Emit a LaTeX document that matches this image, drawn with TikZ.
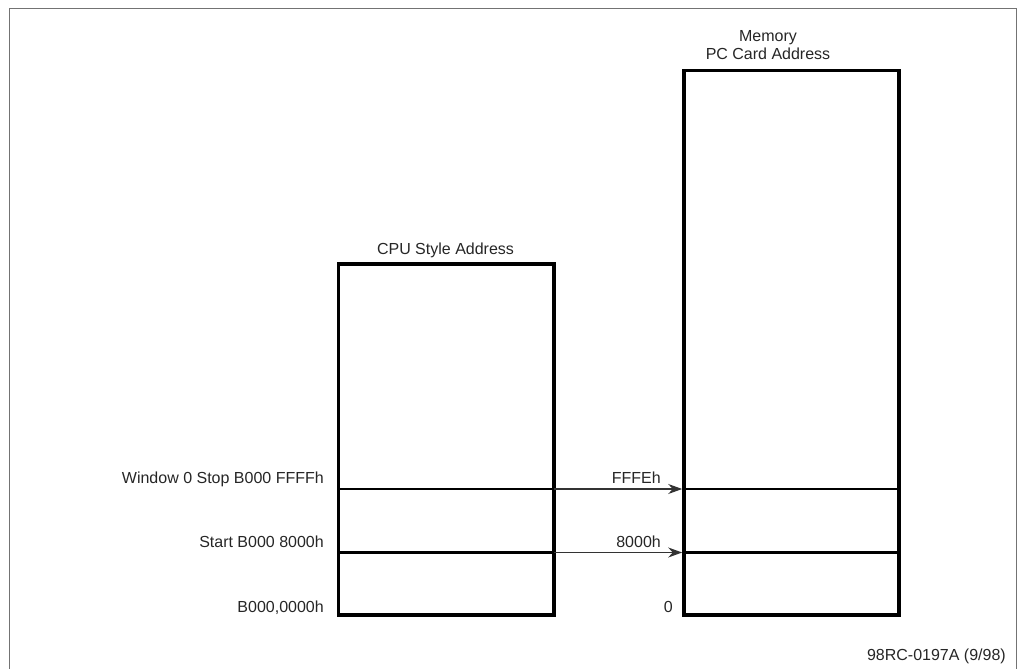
\documentclass[tikz,border=0pt]{standalone}
\usepackage{fontspec}
\setmainfont{Liberation Sans}
\usetikzlibrary{arrows.meta}
\begin{document}
\begin{tikzpicture}[x=1pt,y=-1pt,
  frame/.style={draw=black!55,line width=1.3pt},
  membox/.style={draw=black,line width=3.2pt},
  divider/.style={draw=black,line width=2.8pt},
  maparrow/.style={draw=black!80,line width=1.4pt,-{Stealth[length=14pt,width=10pt]},shorten >=1.8pt},
  lbl/.style={font=\fontsize{16}{19}\selectfont,text=black!85,inner sep=0pt}]
\useasboundingbox (0,0) rectangle (1021,669);
\draw[frame] (9.7,675) -- (9.7,8.7) -- (1016.3,8.7) -- (1016.3,675);
% boxes
\coordinate (cpuTL) at (338.5,264);
\coordinate (cpuBR) at (554,615);
\coordinate (memTL) at (684,70.7);
\coordinate (memBR) at (899,615);
\draw[membox] (cpuTL) rectangle (cpuBR);
\draw[membox] (memTL) rectangle (memBR);
% divider lines
\coordinate (cs1) at (338.5,489);
\coordinate (ce1) at (554,489);
\coordinate (cs2) at (338.5,552.5);
\coordinate (ce2) at (554,552.5);
\coordinate (ms1) at (684,489);
\coordinate (me1) at (899,489);
\coordinate (ms2) at (684,552.5);
\coordinate (me2) at (899,552.5);
\draw[divider] (cs1) -- (ce1);
\draw[divider] (cs2) -- (ce2);
\draw[divider] (ms1) -- (me1);
\draw[divider] (ms2) -- (me2);
% arrows
\draw[maparrow] (ce1) -- (ms1);
\draw[maparrow] (ce2) -- (ms2);
% labels
\node[lbl,anchor=base] (cpuTitle) at (445.5,254) {CPU Style Address};
\node[lbl,anchor=base,align=center] (memTitle1) at (768,42) {Memory};
\node[lbl,anchor=base,align=center] (memTitle2) at (768,60) {PC Card Address};
\node[lbl,anchor=base east] (stop) at (324,483) {Window 0 Stop B000 FFFFh};
\node[lbl,anchor=base east] (start) at (324,547) {Start B000 8000h};
\node[lbl,anchor=base east] (base) at (324,612.5) {B000,0000h};
\node[lbl,anchor=base east] (fffe) at (661,483) {FFFEh};
\node[lbl,anchor=base east] (k8000) at (661,547) {8000h};
\node[lbl,anchor=base east] (zero) at (673,612.5) {0};
\node[lbl,anchor=base east] (fig) at (1006,660) {98RC-0197A (9/98)};
\end{tikzpicture}
\end{document}
